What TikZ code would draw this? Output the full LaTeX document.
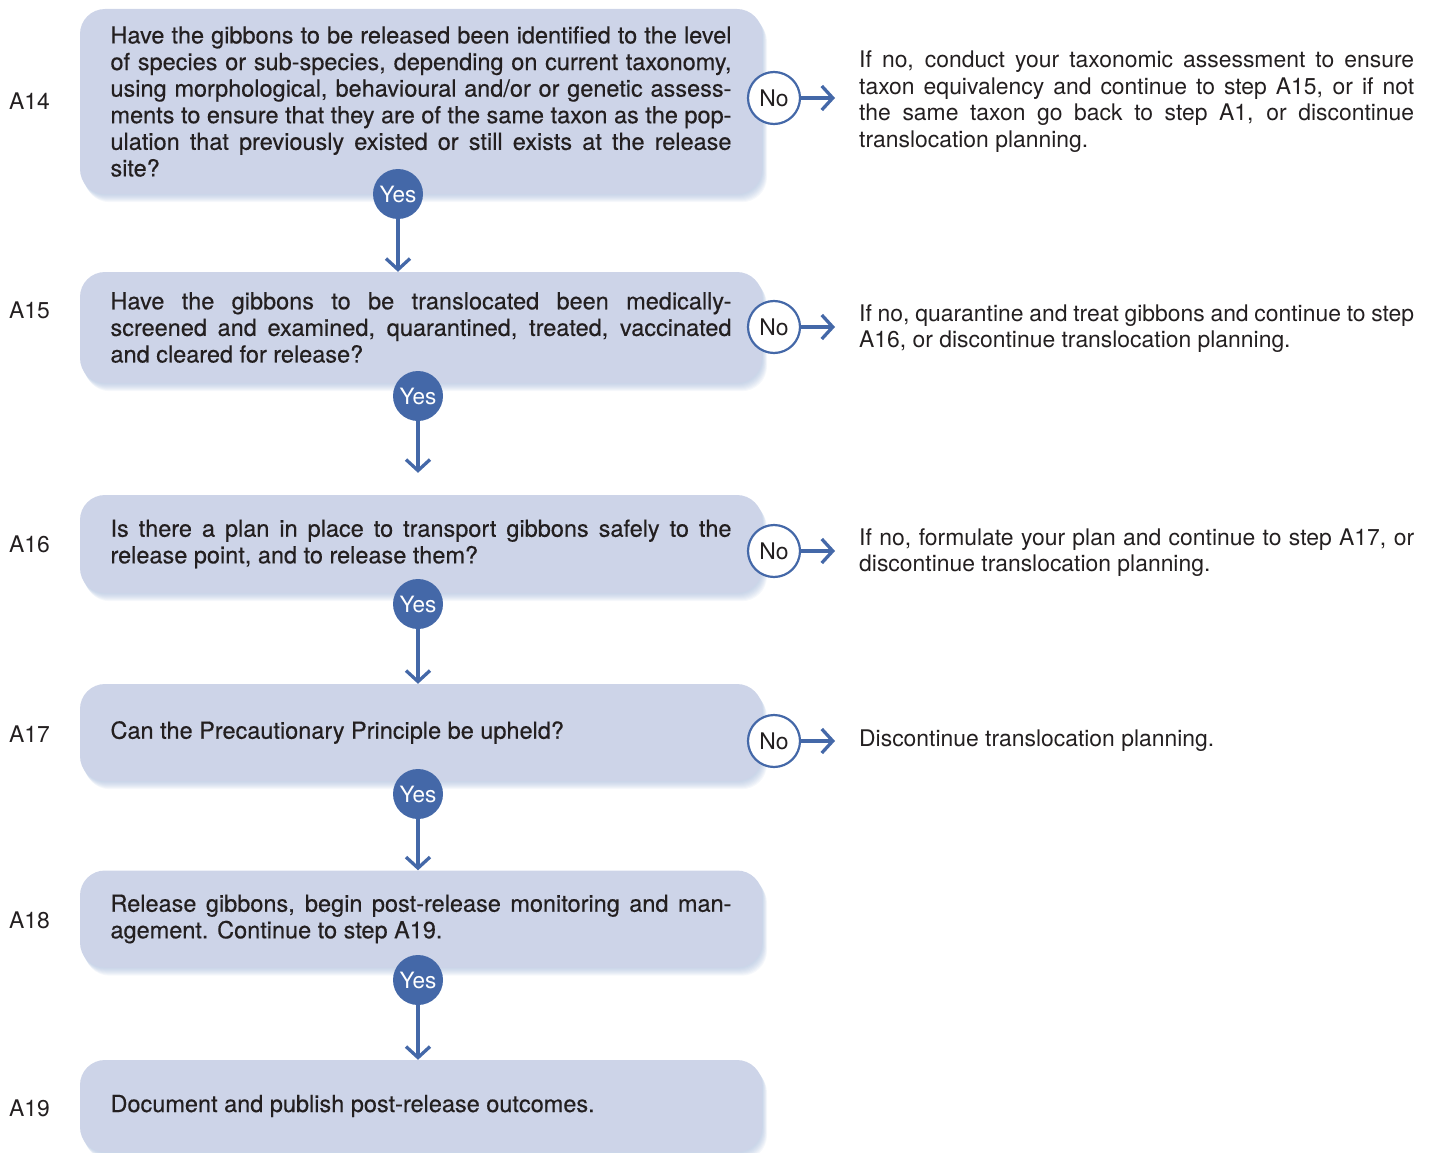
\documentclass[tikz,border=0pt]{standalone}
\usepackage{fontspec}
\setmainfont{TeX Gyre Heros}
\newfontfamily\medfont{TeX Gyre Heros}[FakeBold=0.35]
\usetikzlibrary{arrows.meta,backgrounds}
\definecolor{boxfill}{HTML}{CDD4E8}
\definecolor{flowblue}{HTML}{4468A8}
\definecolor{shadowblue}{HTML}{9DB3D6}
\definecolor{ink}{HTML}{231F20}
\newcommand\boxtextfont{\medfont\fontsize{23.5pt}{26.6pt}\selectfont\tolerance=9999 \hyphenpenalty=10000 }
\newcommand\sidetextfont{\fontsize{22.9pt}{26.4pt}\selectfont\tolerance=9999 \hyphenpenalty=10000 }
\begin{document}
\begin{tikzpicture}[x=1pt,y=-1pt,
  stepbox/.style={rounded corners=25pt, fill=boxfill, minimum width=682pt, text width=621pt,
    inner xsep=30.5pt, inner ysep=0pt, align=justify, font=\boxtextfont, text=ink},
  yescirc/.style={circle, fill=flowblue, minimum size=50pt, inner sep=0pt, text=white,
    font=\fontsize{22.5pt}{24pt}\selectfont},
  nocirc/.style={circle, draw=flowblue, line width=2.2pt, fill=white, minimum size=52pt,
    inner sep=0pt, text=ink, font=\fontsize{22.9pt}{24pt}\selectfont},
  steplabel/.style={anchor=west, inner sep=0pt, text=ink, font=\fontsize{22.9pt}{24pt}\selectfont},
  sidetext/.style={anchor=base west, inner sep=0pt, text width=555pt, align=justify,
    text=ink, font=\sidetextfont},
  flow/.style={draw=flowblue, line width=3.3pt,
    -{Straight Barb[length=11pt,width=24pt,line width=3.3pt]}},
]
\useasboundingbox (0,0) rectangle (1435,1153);

% step boxes
\node[stepbox, minimum height=185pt] (b14) at (421,101.5) {Have the gibbons to be released been identified to the level\linebreak
of species or sub-species, depending on current taxonomy,\linebreak
using morphological, behavioural and/or or genetic assess-\linebreak
ments to ensure that they are of the same taxon as the pop-\linebreak
ulation that previously existed or still exists at the release\linebreak
site?};
\node[stepbox, minimum height=111pt] (b15) at (421,327.5) {Have the gibbons to be translocated been medically-\linebreak
screened and examined, quarantined, treated, vaccinated\linebreak
and cleared for release?};
\node[stepbox, minimum height=98pt] (b16) at (421,544) {Is there a plan in place to transport gibbons safely to the\linebreak
release point, and to release them?};
\node[stepbox, minimum height=97pt] (b17) at (421,732.5) {Can the Precautionary Principle be upheld?};
\node[stepbox, minimum height=97pt] (b18) at (421,919) {Release gibbons, begin post-release monitoring and man-\linebreak
agement. Continue to step A19.};
\node[stepbox, minimum height=92pt] (b19) at (421,1106) {Document and publish post-release outcomes.};

% soft shadows
\begin{scope}[on background layer]
\foreach \b in {b14,b15,b16,b17,b18,b19}{
  \foreach \i in {1,...,8}{
    \fill[shadowblue, opacity=0.09, rounded corners=25pt]
      ([xshift={0.6*\i}, yshift={-1.0*\i}]\b.south west) rectangle
      ([xshift={0.6*\i}, yshift={-1.0*\i}]\b.north east);
  }}
\end{scope}

% step labels
\node[steplabel] (l14) at (9,101) {A14};
\node[steplabel] (l15) at (9,310) {A15};
\node[steplabel] (l16) at (9,544) {A16};
\node[steplabel] (l17) at (9,734) {A17};
\node[steplabel] (l18) at (9,920) {A18};
\node[steplabel] (l19) at (9,1108) {A19};

% yes circles
\node[yescirc] (y14) at (398,194) {Yes};
\node[yescirc] (y15) at (418,396) {Yes};
\node[yescirc] (y16) at (418,604) {Yes};
\node[yescirc] (y17) at (418,794) {Yes};
\node[yescirc] (y18) at (418,980) {Yes};

\draw[flow] (y14) -- (y14 |- b15.north);
\draw[flow, shorten >=22pt] (y15) -- (y15 |- b16.north);
\draw[flow] (y16) -- (y16 |- b17.north);
\draw[flow] (y17) -- (y17 |- b18.north);
\draw[flow] (y18) -- (y18 |- b19.north);

% no circles
\node[nocirc] (n14) at (774,98) {No};
\node[nocirc] (n15) at (774,327) {No};
\node[nocirc] (n16) at (774,551) {No};
\node[nocirc] (n17) at (774,741) {No};
\coordinate (e14) at (835,98);
\coordinate (e15) at (835,327);
\coordinate (e16) at (835,551);
\coordinate (e17) at (835,741);
\draw[flow] (n14) -- (e14);
\draw[flow] (n15) -- (e15);
\draw[flow] (n16) -- (e16);
\draw[flow] (n17) -- (e17);

% side texts
\node[sidetext] (r14) at (859,68) {If no, conduct your taxonomic assessment to ensure\linebreak
taxon equivalency and continue to step A15, or if not\linebreak
the same taxon go back to step A1, or discontinue\linebreak
translocation planning.};
\node[sidetext] (r15) at (859,321) {If no, quarantine and treat gibbons and continue to step\linebreak
A16, or discontinue translocation planning.};
\node[sidetext] (r16) at (859,545) {If no, formulate your plan and continue to step A17, or\linebreak
discontinue translocation planning.};
\node[sidetext] (r17) at (859,746) {Discontinue translocation planning.};
\end{tikzpicture}
\end{document}
